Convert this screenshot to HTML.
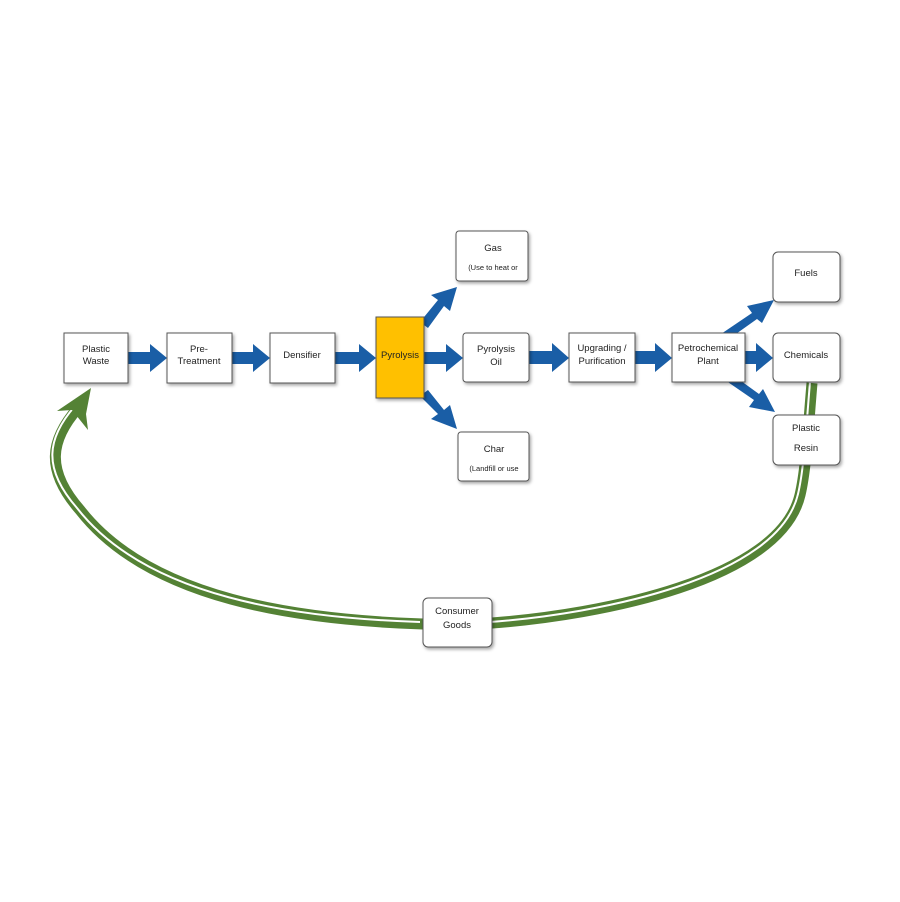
<!DOCTYPE html>
<html><head><style>
body{margin:0;background:#fff;}
svg{display:block;font-family:"Liberation Sans",sans-serif;}
</style></head><body>
<svg width="900" height="902" viewBox="0 0 900 902" xmlns="http://www.w3.org/2000/svg">
<defs>
<filter id="sh" x="-20%" y="-20%" width="140%" height="140%"><feDropShadow dx="1.5" dy="2" stdDeviation="1.5" flood-color="#000" flood-opacity="0.35"/></filter>
</defs>
<g fill="none" stroke-linecap="butt">
<path d="M812,383 C808,430 806,470 800,495 C780,580 600,615 492,623" stroke="#548235" stroke-width="11"/>
<path d="M812,383 C808,430 806,470 800,495 C780,580 600,615 492,623" stroke="#fff" stroke-width="2" transform="translate(-2,-1)"/>
<path d="M423,624 C300,620 150,600 80,510 C45,470 50,440 78,408" stroke="#548235" stroke-width="11"/>
<path d="M423,624 C300,620 150,600 80,510 C45,470 50,440 78,408" stroke="#fff" stroke-width="2" transform="translate(-3,-2)"/>
</g>
<polygon points="91,388 57,411 72,410 88,430 86,414" fill="#548235"/>
<g fill="#1a5ea6">
<polygon points="128,352 150,352 150,344 167,358 150,372 150,364 128,364"/>
<polygon points="232,352 253,352 253,344 270,358 253,372 253,364 232,364"/>
<polygon points="335,352 359,352 359,344 376,358 359,372 359,364 335,364"/>
<polygon points="424,352 446,352 446,344 463,358 446,372 446,364 424,364"/>
<polygon points="529,351 552,351 552,343 569,358 552,372 552,364 529,364"/>
<polygon points="635,351 655,351 655,343 672,358 655,372 655,364 635,364"/>
<polygon points="745,351 756,351 756,343 773,358 756,372 756,364 745,364"/>
<polygon points="420,322 438,300 431,295 457,287 450,311 444,306 428,328"/>
<polygon points="420,396 438,414 431,419 457,429 450,405 444,410 428,390"/>
<polygon points="718,336 752,313 747,306 774,300 762,323 757,319 726,341"/>
<polygon points="722,378 754,400 749,407 775,412 763,389 759,394 730,373"/>
</g>
<g stroke="#555" stroke-width="1" filter="url(#sh)" fill="#fff">
<rect x="64" y="333" width="64" height="50"/>
<rect x="167" y="333" width="65" height="50"/>
<rect x="270" y="333" width="65" height="50"/>
<rect x="376" y="317" width="48" height="81" fill="#ffc000"/>
<rect x="463" y="333" width="66" height="49" rx="3"/>
<rect x="569" y="333" width="66" height="49"/>
<rect x="672" y="333" width="73" height="49"/>
<rect x="773" y="252" width="67" height="50" rx="5"/>
<rect x="773" y="333" width="67" height="49" rx="5"/>
<rect x="773" y="415" width="67" height="50" rx="5"/>
<rect x="456" y="231" width="72" height="50" rx="3"/>
<rect x="458" y="432" width="71" height="49" rx="3"/>
<rect x="423" y="598" width="69" height="49" rx="5"/>
</g>
<g font-size="9.5" fill="#222" text-anchor="middle">
<text x="96" y="352">Plastic</text><text x="96" y="364">Waste</text>
<text x="199" y="352">Pre-</text><text x="199" y="364">Treatment</text>
<text x="302" y="358">Densifier</text>
<text x="400" y="358">Pyrolysis</text>
<text x="496" y="352">Pyrolysis</text><text x="496" y="365">Oil</text>
<text x="602" y="351">Upgrading /</text><text x="602" y="364">Purification</text>
<text x="708" y="351">Petrochemical</text><text x="708" y="364">Plant</text>
<text x="806" y="276">Fuels</text>
<text x="806" y="358">Chemicals</text>
<text x="806" y="431">Plastic</text><text x="806" y="451">Resin</text>
<text x="493" y="251">Gas</text>
<text x="494" y="452">Char</text>
<text x="457" y="614">Consumer</text><text x="457" y="628">Goods</text>
<text x="493" y="270" font-size="7.5">(Use to heat or</text>
<text x="494" y="471" font-size="7.5">(Landfill or use</text>
</g>
</svg>
</body></html>
